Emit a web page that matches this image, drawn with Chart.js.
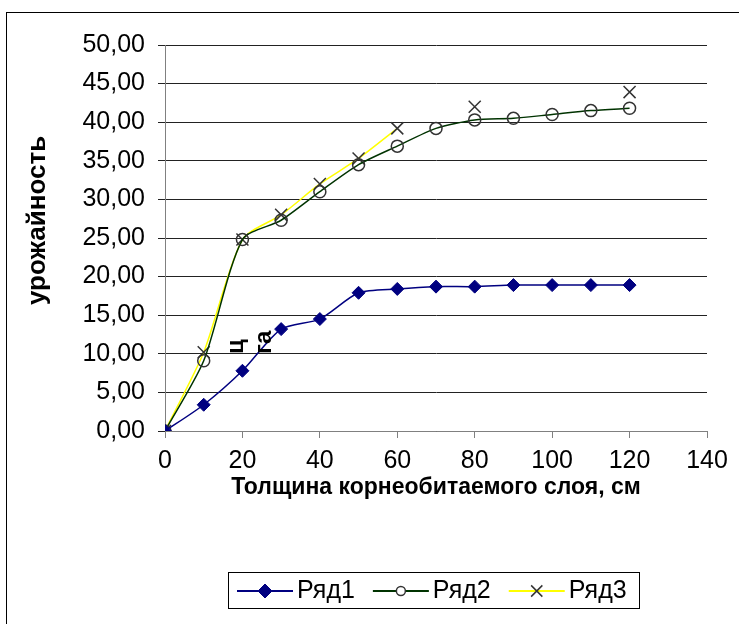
<!DOCTYPE html>
<html>
<head>
<meta charset="utf-8">
<script src="https://cdn.jsdelivr.net/npm/chart.js@4/dist/chart.umd.min.js"></script>
<style>
  html, body { margin: 0; padding: 0; background: #fff; }
  #wrap { position: relative; width: 739px; height: 624px; overflow: hidden; }
  #frame { position: absolute; left: 6px; top: 12px; width: 800px; height: 700px;
           border-left: 1px solid #000; border-top: 1px solid #000; box-sizing: border-box; }
  #c { position: absolute; left: 0; top: 0; }
</style>
</head>
<body>
<div id="wrap">
  <div id="frame"></div>
  <canvas id="c" width="739" height="624"></canvas>
</div>
<script>
// Root-layer thickness, cm
const depth = [0, 10, 20, 30, 40, 50, 60, 70, 80, 90, 100, 110, 120];
// Yield per series (null = no measurement)
const row1 = [0, 3.4, 7.8, 13.2, 14.5, 17.9, 18.4, 18.7, 18.7, 18.9, 18.9, 18.9, 18.9];
const row2 = [0, 9.1, 24.8, 27.3, 31.0, 34.5, 36.9, 39.2, 40.3, 40.5, 41.0, 41.5, 41.8];
const row3 = [0, 10.2, 24.8, 28.0, 32.0, 35.3, 39.2, null, 42.0, null, null, null, 43.9];
const seriesNames = ['Ряд1', 'Ряд2', 'Ряд3'];
const xTitle = 'Толщина корнеобитаемого слоя, см';
const yTitle = 'урожайность';
const unitLines = ['ц', 'га'];

const FONT = 'Liberation Sans, Arial, sans-serif';

function pts(ys) {
  return depth.map((x, i) => ({ x: x, y: ys[i] }));
}

function drawMarker(ctx, style, x, y, r) {
  ctx.beginPath();
  if (style === 'rectRot') {
    ctx.moveTo(x, y - r); ctx.lineTo(x + r, y); ctx.lineTo(x, y + r); ctx.lineTo(x - r, y);
    ctx.closePath(); ctx.fill(); ctx.stroke();
  } else if (style === 'circle') {
    ctx.arc(x, y, r, 0, Math.PI * 2); ctx.fillStyle = '#fff'; ctx.fill(); ctx.stroke();
  } else {
    const d = r * 0.7;
    ctx.moveTo(x - d, y - d); ctx.lineTo(x + d, y + d);
    ctx.moveTo(x + d, y - d); ctx.lineTo(x - d, y + d);
    ctx.stroke();
  }
}

// Boxed legend: line sample with its marker, then the series name
const boxLegend = {
  id: 'boxLegend',
  afterDraw(chart) {
    const ctx = chart.ctx;
    const left = 228.5, top = 572.5, w = 411, h = 36;
    ctx.save();
    ctx.strokeStyle = '#000';
    ctx.lineWidth = 1;
    ctx.strokeRect(left, top, w, h);
    ctx.font = '25px ' + FONT;
    ctx.textBaseline = 'middle';
    ctx.textAlign = 'left';
    const cy = 591;
    let x = 237;
    chart.data.datasets.forEach((ds) => {
      ctx.strokeStyle = ds.borderColor;
      ctx.lineWidth = 2;
      ctx.beginPath();
      ctx.moveTo(x, cy);
      ctx.lineTo(x + 56, cy);
      ctx.stroke();
      ctx.fillStyle = ds.pointBackgroundColor;
      ctx.strokeStyle = ds.pointBorderColor;
      ctx.lineWidth = ds.pointBorderWidth;
      drawMarker(ctx, ds.pointStyle, x + 28, cy, ds.legendRadius);
      ctx.fillStyle = '#000';
      ctx.fillText(ds.label, x + 60, cy);
      x += 60 + ctx.measureText(ds.label).width + 18;
    });
    ctx.restore();
  }
};

// Vertical axis caption and the rotated unit caption inside the plot
const captions = {
  id: 'captions',
  afterDatasetsDraw(chart) {
    const ctx = chart.ctx;
    ctx.save();
    ctx.fillStyle = '#000';
    ctx.textBaseline = 'alphabetic';
    ctx.textAlign = 'left';

    ctx.save();
    ctx.translate(45, 305);
    ctx.rotate(-Math.PI / 2);
    ctx.font = 'bold 26px ' + FONT;
    ctx.fillText(yTitle, 0, 0);
    ctx.restore();

    ctx.save();
    ctx.translate(257, 354);
    ctx.rotate(-Math.PI / 2);
    ctx.font = 'bold 24px ' + FONT;
    ctx.fillText(unitLines[0], 0, -14);
    ctx.fillText(unitLines[1], 0, 14);
    ctx.restore();

    ctx.restore();
  }
};

new Chart(document.getElementById('c'), {
  type: 'line',
  data: {
    datasets: [
      {
        label: seriesNames[0], data: pts(row1),
        borderColor: '#000080', borderWidth: 1.5, tension: 0.25,
        pointStyle: 'rectRot', pointRadius: 6.5, legendRadius: 7,
        pointBackgroundColor: '#000080', pointBorderColor: '#000080', pointBorderWidth: 1
      },
      {
        label: seriesNames[1], data: pts(row2),
        borderColor: '#003300', borderWidth: 1.5, tension: 0.25,
        pointStyle: 'circle', pointRadius: 6, legendRadius: 4.5,
        pointBackgroundColor: 'rgba(255,255,255,0)', pointBorderColor: '#333', pointBorderWidth: 1.5
      },
      {
        label: seriesNames[2], data: pts(row3),
        borderColor: '#ffff00', borderWidth: 1.5, tension: 0.25, spanGaps: false,
        pointStyle: 'crossRot', pointRadius: 8.5, legendRadius: 8,
        pointBackgroundColor: '#333', pointBorderColor: '#333', pointBorderWidth: 1.5
      }
    ]
  },
  options: {
    responsive: false,
    animation: false,
    events: [],
    layout: { padding: { left: 30, top: 45, right: 32, bottom: 123 } },
    plugins: { legend: { display: false }, tooltip: { enabled: false } },
    scales: {
      x: {
        type: 'linear', min: 0, max: 140,
        afterFit(s) { s.height = 70; },
        grid: { drawOnChartArea: false, drawTicks: true, tickLength: 7, color: '#808080', lineWidth: 1 },
        border: { color: '#808080', width: 1 },
        ticks: { stepSize: 20, color: '#000', font: { family: FONT, size: 25 }, padding: 8 },
        title: { display: true, text: xTitle, color: '#000', padding: 0,
                 font: { family: FONT, size: 23, weight: 'bold' } }
      },
      y: {
        min: 0, max: 50,
        afterFit(s) { s.width = 135; },
        grid: { color: '#222', lineWidth: 1, tickLength: 7 },
        border: { color: '#808080', width: 1 },
        ticks: { stepSize: 5, color: '#000', font: { family: FONT, size: 25 }, padding: 13,
                 callback: (v) => v.toFixed(2).replace('.', ',') }
      }
    }
  },
  plugins: [boxLegend, captions]
});
</script>
</body>
</html>
